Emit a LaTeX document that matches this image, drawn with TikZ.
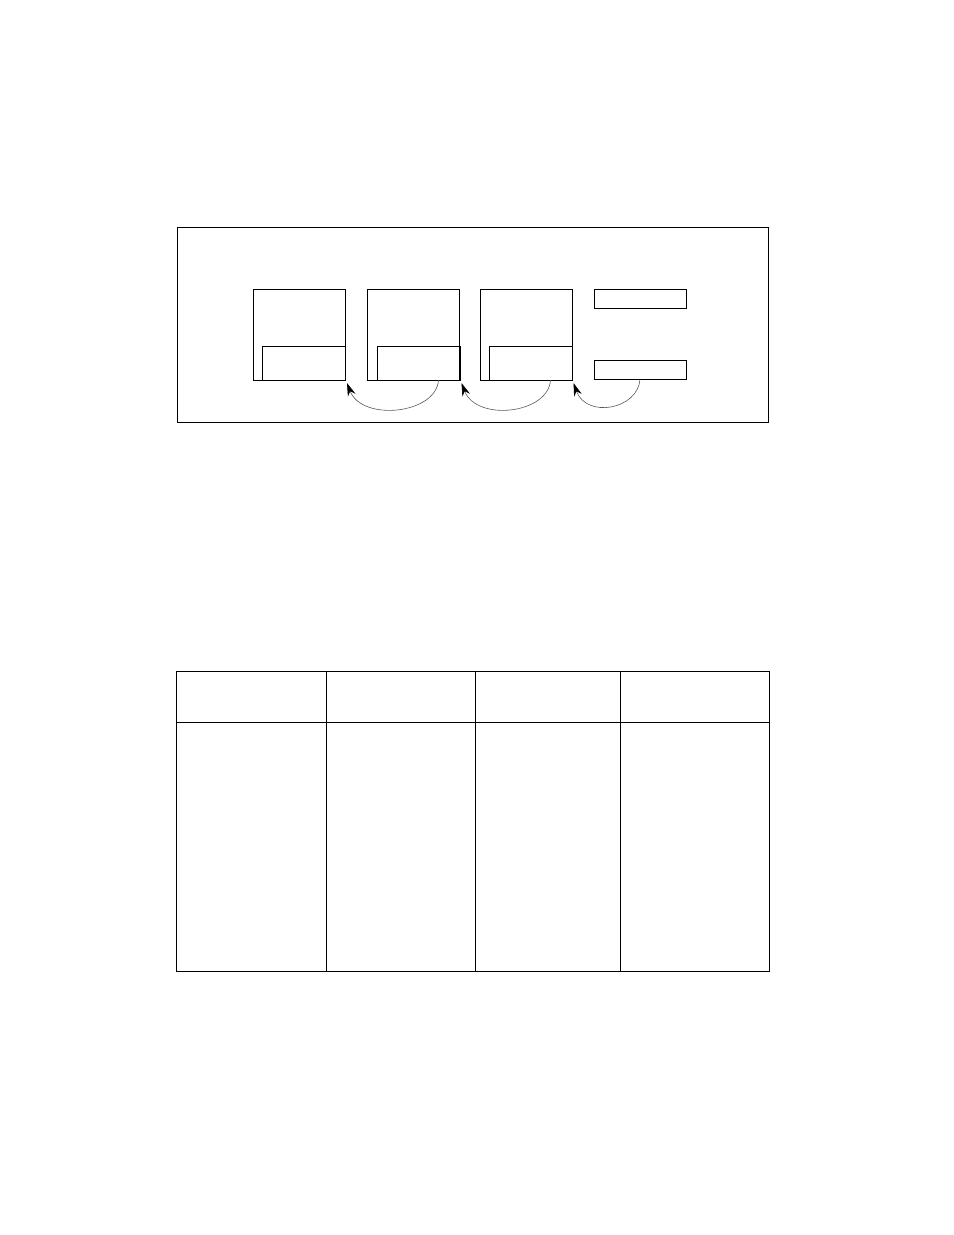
\documentclass[tikz,border=0pt]{standalone}
\usetikzlibrary{arrows.meta}
\begin{document}
\begin{tikzpicture}[x=1bp,y=-1bp,
  frame/.style={draw,line width=1bp,inner sep=0pt,outer sep=0pt,anchor=north west},
  cell/.style={draw,line width=1.1bp,inner sep=0pt,outer sep=0pt,anchor=north west},
  link/.style={draw=black!65,line width=0.6bp,-{Stealth[length=13bp,width=8bp,black]}}]
\useasboundingbox (0,0) rectangle (954,1235);
% outer frame
\node[frame,minimum width=591bp,minimum height=194.5bp] (outer) at (177,227.5) {};
% big boxes
\node[frame,minimum width=92bp,minimum height=91bp] (b1) at (253,289) {};
\node[frame,minimum width=83bp,minimum height=34bp] (i1) at (262,346) {};
\node[frame,minimum width=92bp,minimum height=91bp] (b2) at (367.5,289) {};
\node[frame,minimum width=83bp,minimum height=34bp] (i2) at (377,346) {};
\node[frame,minimum width=92bp,minimum height=91bp] (b3) at (480.5,289) {};
\node[frame,minimum width=83bp,minimum height=34bp] (i3) at (489.5,346) {};
% small rectangles
\node[frame,minimum width=92bp,minimum height=19bp] (ra) at (594.5,289.3) {};
\node[frame,minimum width=92bp,minimum height=19bp] (rb) at (594.5,360.3) {};
% curved arrows
\coordinate (t1) at ([xshift=2bp,yshift=-3bp]b1.south east);
\coordinate (t2) at ([xshift=2bp,yshift=-3bp]b2.south east);
\coordinate (t3) at ([xshift=1bp,yshift=-3bp]b3.south east);
\path[link] ([xshift=25bp]b2.south) .. controls +(-2,34) and +(15,39) .. (t1);
\path[link] ([xshift=24bp]b3.south) .. controls +(-2,34) and +(15,39) .. (t2);
\path[link] ([xshift=-0.5bp]rb.south) .. controls +(-2,30) and +(13,36) .. (t3);
% table
\node[cell,minimum width=149.6bp,minimum height=51.4bp] (h1) at (176.7,671.3) {};
\node[cell,minimum width=149bp,minimum height=51.4bp] (h2) at (326.3,671.3) {};
\node[cell,minimum width=145.4bp,minimum height=51.4bp] (h3) at (475.3,671.3) {};
\node[cell,minimum width=149bp,minimum height=51.4bp] (h4) at (620.7,671.3) {};
\node[cell,minimum width=149.6bp,minimum height=248.6bp] (c1) at (176.7,722.7) {};
\node[cell,minimum width=149bp,minimum height=248.6bp] (c2) at (326.3,722.7) {};
\node[cell,minimum width=145.4bp,minimum height=248.6bp] (c3) at (475.3,722.7) {};
\node[cell,minimum width=149bp,minimum height=248.6bp] (c4) at (620.7,722.7) {};
\end{tikzpicture}
\end{document}
